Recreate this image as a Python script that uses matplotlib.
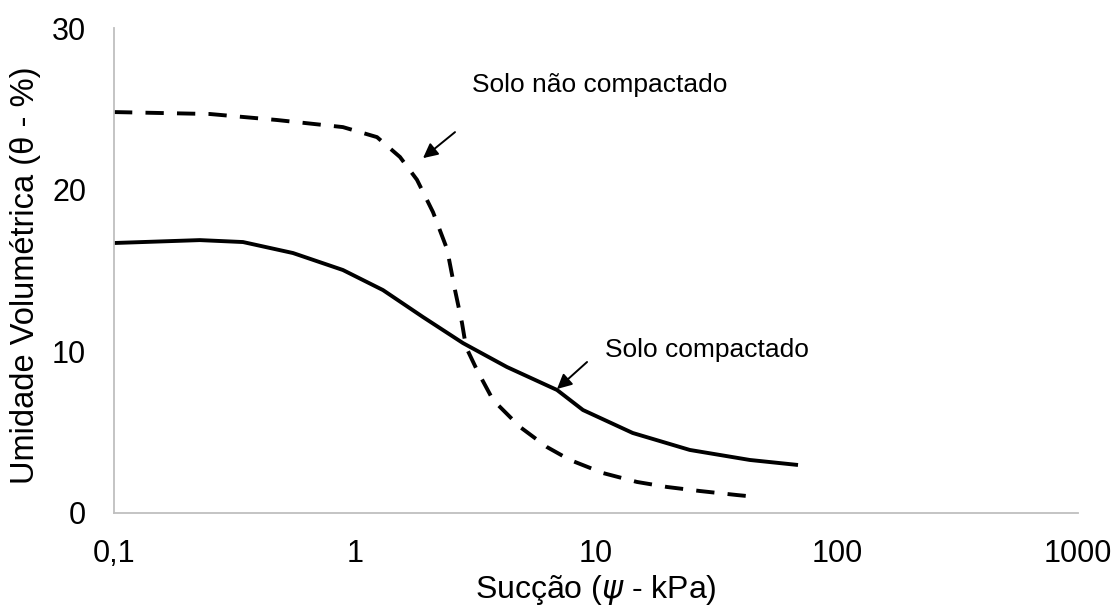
import numpy as np
import matplotlib.pyplot as plt

# Curva de retenção
succao_nc = [0.1, 0.250, 0.474, 0.891, 1.234, 1.537, 1.808, 2.107, 2.409, 2.600, 2.780,
             2.888, 3.208, 3.739, 4.84, 6.26, 7.80, 10.7, 14.8, 19.7, 27.0, 38.5, 46.6]
theta_nc = [24.8, 24.68, 24.31, 23.87, 23.25, 22.02, 20.61, 18.61, 16.33, 13.79, 11.75,
            10.27, 8.84, 6.99, 5.32, 4.08, 3.28, 2.47, 1.92, 1.61, 1.36, 1.11, 0.99]

succao_c = [0.1, 0.227, 0.343, 0.553, 0.891, 1.306, 1.915, 2.806, 4.27, 6.89, 8.83,
            14.2, 24.5, 43.5, 68.9]
theta_c = [16.7, 16.88, 16.76, 16.08, 15.03, 13.79, 12.12, 10.51, 9.03, 7.61, 6.37,
           4.95, 3.90, 3.28, 2.97]

xticks = [0.1, 1, 10, 100, 1000]
xtick_labels = ["0,1", "1", "10", "100", "1000"]
yticks = [0, 10, 20, 30]

plt.rcParams['font.family'] = ['Liberation Sans', 'DejaVu Sans']
plt.rcParams['mathtext.fontset'] = 'dejavusans'

fig = plt.figure(figsize=(11.14, 6.12), dpi=100)
ax = fig.add_axes([114 / 1114, 1 - 513 / 612, 964 / 1114, 485 / 612])

ax.plot(succao_nc, theta_nc, color='black', lw=2.8, dashes=(4.7, 3.4),
        solid_capstyle='butt', dash_capstyle='butt')
ax.plot(succao_c, theta_c, color='black', lw=2.8, solid_capstyle='butt')

ax.set_xscale('log')
ax.set_xlim(0.1, 1000)
ax.set_ylim(0, 30)
ax.set_xticks(xticks)
ax.set_xticklabels(xtick_labels)
ax.minorticks_off()
ax.set_yticks(yticks)
ax.tick_params(length=0, labelsize=22)
ax.tick_params(axis='x', pad=19)
ax.tick_params(axis='y', pad=20)

for s in ['top', 'right']:
    ax.spines[s].set_visible(False)
for s in ['left', 'bottom']:
    ax.spines[s].set_color('#bfbfbf')
    ax.spines[s].set_linewidth(1.3)

# rótulos dos eixos
fig.text(596 / 1114, 1 - 590 / 612, r"Sucção ($\psi$ - kPa)", fontsize=23,
         ha='center', va='center')
fig.text(26 / 1114, 1 - 275 / 612, "Umidade Volumétrica (θ - %)", fontsize=23.5,
         ha='center', va='center', rotation=90)

# anotações
arrow = dict(arrowstyle='-|>', lw=1.4, color='black', mutation_scale=22,
             shrinkA=0, shrinkB=0)
ax.text(3.06, 26.47, "Solo não compactado", fontsize=19, va='center', ha='left')
ax.annotate("", xy=(1.915, 21.95), xytext=(2.60, 23.56), arrowprops=arrow)
ax.text(10.9, 10.08, "Solo compactado", fontsize=19, va='center', ha='left')
ax.annotate("", xy=(6.89, 7.67), xytext=(9.18, 9.34), arrowprops=arrow)

fig.savefig("out.png", dpi=100)
